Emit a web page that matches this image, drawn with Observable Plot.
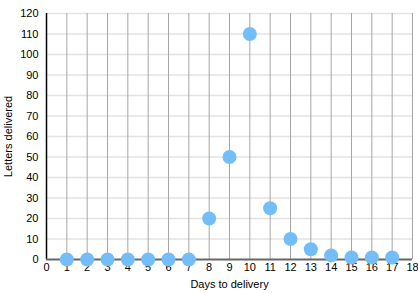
<!DOCTYPE html>
<html>
<head>
<meta charset="utf-8">
<script src="https://cdn.jsdelivr.net/npm/d3@7"></script>
<script src="https://cdn.jsdelivr.net/npm/@observablehq/plot@0.6"></script>
<style>
  html, body { margin: 0; padding: 0; background: #fff; }
</style>
</head>
<body>
<div id="chart"></div>
<script>
const days = [1, 2, 3, 4, 5, 6, 7, 8, 9, 10, 11, 12, 13, 14, 15, 16, 17];
const letters = [0, 0, 0, 0, 0, 0, 0, 20, 50, 110, 25, 10, 5, 2, 1, 1, 1];
const xTicks = [0, 1, 2, 3, 4, 5, 6, 7, 8, 9, 10, 11, 12, 13, 14, 15, 16, 17, 18];
const yTicks = [0, 10, 20, 30, 40, 50, 60, 70, 80, 90, 100, 110, 120];
const xLabel = "Days to delivery";
const yLabel = "Letters delivered";

const data = days.map((d, i) => ({day: d, letters: letters[i]}));

const chart = Plot.plot({
  width: 418,
  height: 293,
  marginLeft: 46,
  marginRight: 6,
  marginTop: 13,
  marginBottom: 34,
  style: {fontFamily: "'Liberation Sans', Arial, Helvetica, sans-serif", fontSize: "11px", color: "#000", background: "#fff"},
  x: {domain: [0, 18]},
  y: {domain: [0, 120]},
  marks: [
    Plot.gridY(yTicks.filter(d => d > 0), {stroke: "#e3e3e3", strokeOpacity: 1, strokeWidth: 1.5}),
    Plot.gridX(xTicks.filter(d => d > 0), {stroke: "#a6a6a6", strokeOpacity: 1}),
    Plot.ruleX([0], {stroke: "#000", strokeWidth: 1.5}),
    Plot.ruleY([0], {stroke: "#666", strokeWidth: 2}),
    Plot.axisX(xTicks, {tickSize: 0, tickPadding: 4, label: null, fill: "#000"}),
    Plot.axisY(yTicks, {tickSize: 0, tickPadding: 8, label: null, fill: "#000"}),
    Plot.text([xLabel], {frameAnchor: "bottom", dy: 28, fill: "#000"}),
    Plot.text([yLabel], {frameAnchor: "left", textAnchor: "middle", rotate: -90, dx: -38, fill: "#000"}),
    Plot.dot(data, {x: "day", y: "letters", r: 7, fill: "#73bdf9"})
  ]
});
document.getElementById("chart").appendChild(chart);
</script>
</body>
</html>
